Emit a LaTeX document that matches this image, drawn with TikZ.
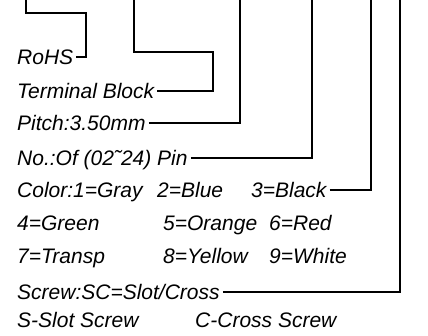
\documentclass[tikz,border=0pt]{standalone}
\usepackage{fontspec}
\setmainfont{Liberation Sans}
\usepackage{tikz}

\begin{document}
\begin{tikzpicture}[x=1pt,y=-1pt,
  lbl/.style={anchor=west,inner xsep=3pt,inner ysep=0pt,text height=15pt,text depth=0pt,
    font=\fontsize{21}{25}\selectfont\itshape},
  lead/.style={line width=1.3pt}]
  \useasboundingbox (0,0) rectangle (428,336);

  \node[lbl] (rohs)   at (14,57)   {RoHS};
  \node[lbl] (block)  at (14,91)   {Terminal Block};
  \node[lbl] (pitch)  at (14,123)  {Pitch:3.50mm};
  \node[lbl] (pins)   at (14,158)  {No.:Of (02˜24) Pin};
  \node[lbl] (gray)   at (14,190)  {Color:1=Gray};
  \node[lbl] (blue)   at (154,190) {2=Blue};
  \node[lbl] (black)  at (248,190) {3=Black};
  \node[lbl] (green)  at (14,223)  {4=Green};
  \node[lbl] (orange) at (160,223) {5=Orange};
  \node[lbl] (red)    at (266,223) {6=Red};
  \node[lbl] (transp) at (14,256)  {7=Transp};
  \node[lbl] (yellow) at (160,256) {8=Yellow};
  \node[lbl] (white)  at (266,256) {9=White};
  \node[lbl] (screw)  at (14,292)  {Screw:SC=Slot/Cross};
  \node[lbl] (slot)   at (14,320)  {S-Slot Screw};
  \node[lbl] (cross)  at (192,320) {C-Cross Screw};

  \coordinate (rohs top)  at (26,0);
  \coordinate (block top) at (134,0);
  \coordinate (pitch top) at (240,0);
  \coordinate (pins top)  at (312,0);
  \coordinate (color top) at (371,0);
  \coordinate (screw top) at (400,0);

  \draw[lead] (rohs.east) -| (86,13) -| (rohs top);
  \draw[lead] (block.east) -| (213,52) -| (block top);
  \draw[lead] (pitch.east) -| (pitch top);
  \draw[lead] (pins.east) -| (pins top);
  \draw[lead] (black.east) -| (color top);
  \draw[lead] (screw.east) -| (screw top);
\end{tikzpicture}
\end{document}
